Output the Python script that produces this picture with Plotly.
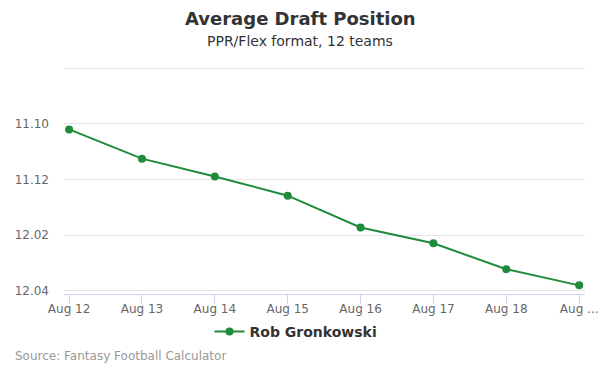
import plotly.graph_objects as go

categories = ["Aug 12", "Aug 13", "Aug 14", "Aug 15", "Aug 16", "Aug 17", "Aug 18", "Aug 19"]
category_labels = ["Aug 12", "Aug 13", "Aug 14", "Aug 15", "Aug 16", "Aug 17", "Aug 18", "Aug ..."]
adp_overall = [130.20, 131.25, 131.89, 132.58, 133.72, 134.29, 135.22, 135.80]
series_name = "Rob Gronkowski"
y_tick_values = [128, 130, 132, 134, 136]
y_tick_labels = ["", "11.10", "11.12", "12.02", "12.04"]

W, H = 600, 375
L, R, T, B = 64, 15, 67, 81
ph = H - T - B
pw = W - L - R

def py(pix):
    return (H - B - pix) / ph

def px(pix):
    return (pix - L) / pw

fig = go.Figure()
fig.add_trace(go.Scatter(
    x=list(range(len(categories))),
    y=adp_overall,
    mode="lines+markers",
    name=series_name,
    line=dict(color="#1f8b3b", width=2),
    marker=dict(color="#1f8b3b", size=8),
))

fig.update_layout(
    width=W, height=H,
    margin=dict(l=L, r=R, t=T, b=B, autoexpand=False),
    paper_bgcolor="white", plot_bgcolor="white",
    font=dict(family="DejaVu Sans", color="#666666"),
    showlegend=True,
    legend=dict(
        orientation="h", x=px(296), xanchor="center", y=py(332), yanchor="middle",
        font=dict(size=14, color="#333333", weight="bold"),
        itemwidth=30,
    ),
    xaxis=dict(
        range=[-0.07, 7.08], automargin=False,
        tickmode="array", tickvals=list(range(len(categories))), ticktext=category_labels,
        showgrid=False, zeroline=False,
        showline=True, linecolor="#ccd6eb", linewidth=1,
        ticks="outside", ticklen=9, tickcolor="#ccd6eb",
        ticklabelstandoff=-5,
        tickfont=dict(size=12, color="#666666"),
    ),
    yaxis=dict(
        range=[136.11, 127.96], automargin=False,
        tickmode="array", tickvals=y_tick_values, ticktext=y_tick_labels,
        showgrid=True, gridcolor="#e6e6e6", gridwidth=1,
        zeroline=False, showline=False,
        tickfont=dict(size=12, color="#666666"),
        ticklabelstandoff=14,
    ),
    annotations=[
        dict(text="<b>Average Draft Position</b>", xref="paper", yref="paper",
             x=px(300), y=py(19), xanchor="center", yanchor="middle", showarrow=False,
             font=dict(size=18, color="#333333")),
        dict(text="PPR/Flex format, 12 teams", xref="paper", yref="paper",
             x=px(300), y=py(41), xanchor="center", yanchor="middle", showarrow=False,
             font=dict(size=14, color="#333333")),
        dict(text="Source: Fantasy Football Calculator", xref="paper", yref="paper",
             x=px(13), y=py(356), xanchor="left", yanchor="middle", showarrow=False,
             font=dict(size=12, color="#999999")),
    ],
)

fig.write_html("out.html", config={"displayModeBar": False},
               post_script="document.body.style.margin='0';document.body.style.overflow='hidden';")
